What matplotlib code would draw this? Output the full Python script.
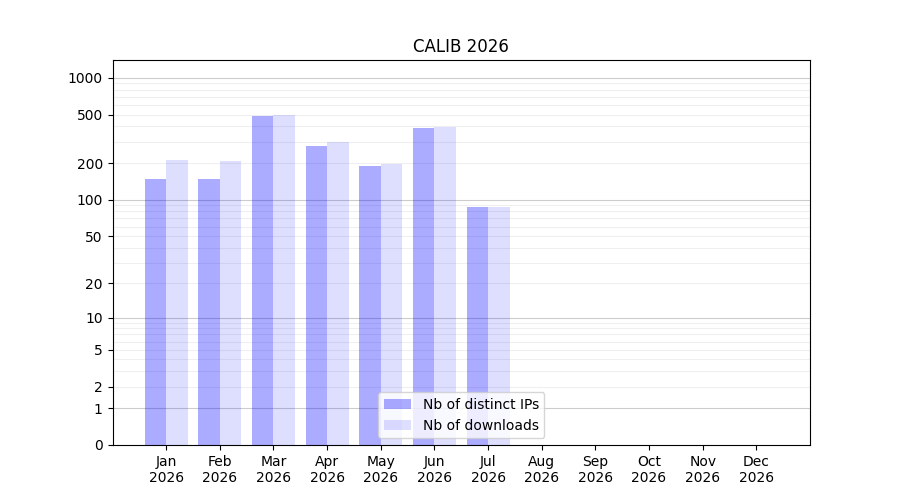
import numpy as np
import matplotlib
matplotlib.use("Agg")
import matplotlib.pyplot as plt

months = ["Jan", "Feb", "Mar", "Apr", "May", "Jun", "Jul", "Aug", "Sep", "Oct", "Nov", "Dec"]
year = "2026"
distinct_ips = [149, 149, 490, 278, 191, 390, 87]
downloads = [214, 210, 499, 300, 198, 398, 87]
y_ticks = [0, 1, 2, 5, 10, 20, 50, 100, 200, 500, 1000]


def fwd(y):
    return np.log10(1 + np.maximum(y, 0))


def inv(y):
    return 10 ** y - 1


fig, ax = plt.subplots(figsize=(9, 5), dpi=100)
ax.set_yscale("function", functions=(fwd, inv))

x = np.arange(len(distinct_ips))
ax.bar(x, distinct_ips, width=-0.4, align="edge", color="blue", alpha=0.33,
       label="Nb of distinct IPs")
ax.bar(x, downloads, width=0.4, align="edge", color="blue", alpha=0.13,
       label="Nb of downloads")

# lignes de grille : décades plus foncées, le reste très clair
for dec in [1, 10, 100, 1000]:
    ax.axhline(dec, color="gray", alpha=0.4, lw=0.8, zorder=0.5)
    if dec < 1000:
        for k in range(2, 10):
            ax.axhline(k * dec, color="gray", alpha=0.12, lw=0.8, zorder=0.5)

ax.set_yticks(y_ticks)
ax.set_yticklabels([str(v) for v in y_ticks])
ax.yaxis.set_minor_locator(matplotlib.ticker.NullLocator())
ax.set_ylim(0, 1400)

ax.set_xticks(np.arange(len(months)))
ax.set_xticklabels([f"{m}\n{year}" for m in months])
ax.set_xlim(-1, 12)

ax.set_title("CALIB 2026")
ax.legend(loc="lower center")

fig.savefig("out.png")
